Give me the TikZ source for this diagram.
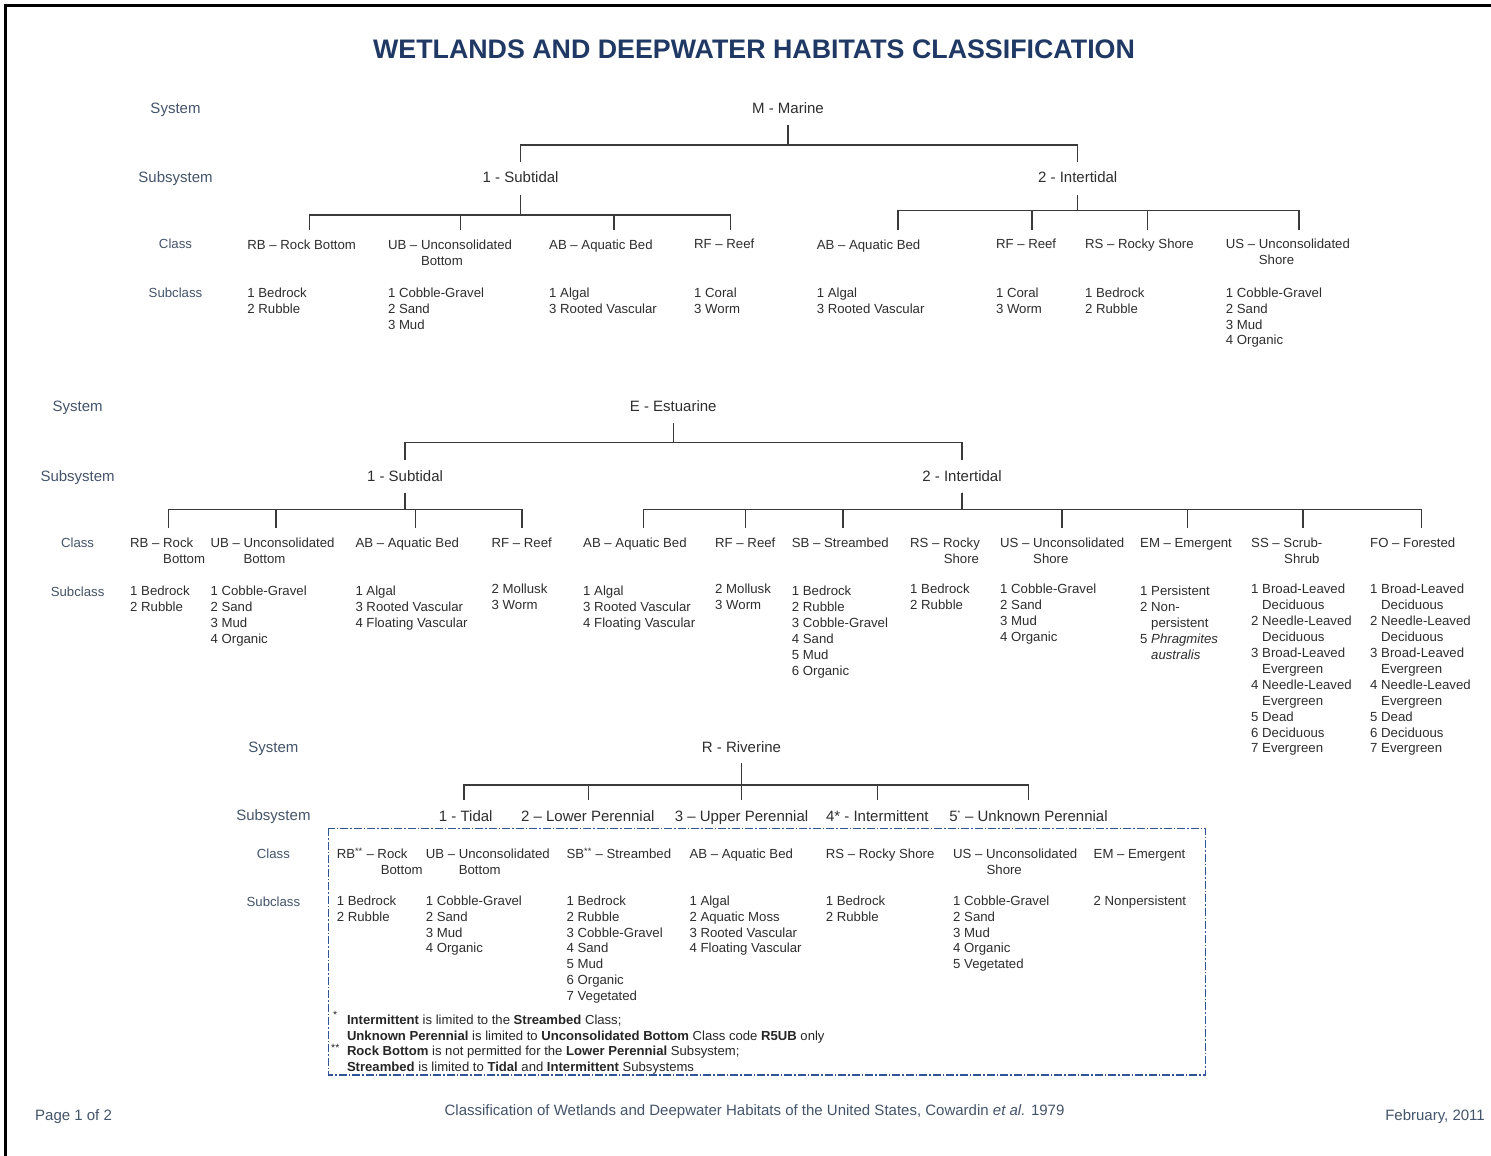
\documentclass[tikz,border=0pt]{standalone}
\usepackage{fontspec}
\setmainfont{Liberation Sans}
\definecolor{titlecol}{HTML}{1F3864}
\definecolor{labcol}{HTML}{44546A}
\definecolor{txtcol}{HTML}{2E2E2E}
\definecolor{linecol}{HTML}{3A3A3A}
\definecolor{boxcol}{HTML}{2F5597}
\newcommand{\fl}{\rule{0pt}{10pt}}
\begin{document}
\begin{tikzpicture}[x=1pt,y=-1pt,
  lab/.style={anchor=base, inner sep=0pt, text=labcol, font=\fontsize{15}{18}\selectfont},
  labs/.style={anchor=base, inner sep=0pt, text=labcol, font=\fontsize{13.2}{15.9}\selectfont},
  sysn/.style={anchor=base, inner sep=0pt, text=txtcol, font=\fontsize{15}{18}\selectfont},
  cls/.style={anchor=north west, inner sep=0pt, align=left, text=txtcol, font=\fontsize{13.2}{15.9}\selectfont},
  tree/.style={draw=linecol, line width=1.4pt},
  rbox/.style={draw=boxcol, line width=1.1pt, dash pattern=on 8pt off 2pt on 1.5pt off 2pt},
  foot/.style={inner sep=0pt, text=labcol, font=\fontsize{15}{18}\selectfont}]
\useasboundingbox (0,0) rectangle (1491,1156);
\fill[white] (0,0) rectangle (1491,1156);
\draw[black, line width=2.7pt] (5.3,1156) -- (5.3,5.3) -- (1491,5.3);

% Title
\node[anchor=base, inner sep=0pt, text=titlecol, font=\bfseries\fontsize{26.8}{30}\selectfont] (title) at (754,58.9) {WETLANDS AND DEEPWATER HABITATS CLASSIFICATION};

% ================= MARINE =================
\node[lab] (mlsys) at (175.5,113.7) {System};
\node[lab] (mlsub) at (175.5,182.7) {Subsystem};
\node[labs] (mlcls) at (175.5,248.4) {Class};
\node[labs] (mlscl) at (175.5,297) {Subclass};

\node[sysn] (mar) at (788,113.7) {M - Marine};
\node[sysn] (msub) at (520.6,182.7) {1 - Subtidal};
\node[sysn] (mint) at (1077.7,182.7) {2 - Intertidal};

\node[cls] (mRB) at (247.2,239.2) {\fl RB – Rock Bottom};
\node[cls] (mUB) at (387.8,239.2) {\fl UB – Unconsolidated\\\hspace*{33pt}Bottom};
\node[cls] (mAB) at (549,239.2) {\fl AB – Aquatic Bed};
\node[cls] (mRF) at (694,238.4) {\fl RF – Reef};
\node[cls] (mAB2) at (816.6,239.2) {\fl AB – Aquatic Bed};
\node[cls] (mRF2) at (995.8,238.4) {\fl RF – Reef};
\node[cls] (mRS) at (1084.9,238.4) {\fl RS – Rocky Shore};
\node[cls] (mUS) at (1225.7,238.4) {\fl US – Unconsolidated\\\hspace*{33pt}Shore};

\node[cls] (mRBs) at (247.2,287) {\fl 1 Bedrock\\2 Rubble};
\node[cls] (mUBs) at (387.8,287) {\fl 1 Cobble-Gravel\\2 Sand\\3 Mud};
\node[cls] (mABs) at (549,287) {\fl 1 Algal\\3 Rooted Vascular};
\node[cls] (mRFs) at (694,287) {\fl 1 Coral\\3 Worm};
\node[cls] (mAB2s) at (816.6,287) {\fl 1 Algal\\3 Rooted Vascular};
\node[cls] (mRF2s) at (995.8,287) {\fl 1 Coral\\3 Worm};
\node[cls] (mRSs) at (1084.9,287) {\fl 1 Bedrock\\2 Rubble};
\node[cls] (mUSs) at (1225.7,287) {\fl 1 Cobble-Gravel\\2 Sand\\3 Mud\\4 Organic};

\coordinate (mRBc) at (309.2,230);
\coordinate (mUBc) at (460.5,230);
\coordinate (mABc) at (614,230);
\coordinate (mRFc) at (730.4,230);
\coordinate (mAB2c) at (898,230);
\coordinate (mRF2c) at (1032,230);
\coordinate (mRSc) at (1147.6,230);
\coordinate (mUSc) at (1299,230);

\draw[tree] (mar |- 0,125) -- (mar |- 0,145) -| (msub |- 0,162.3);
\draw[tree] (mar |- 0,125) -- (mar |- 0,145) -| (mint |- 0,162.3);
\foreach \c in {mRBc,mUBc,mABc,mRFc}
  \draw[tree] (msub |- 0,195) -- (msub |- 0,215) -| (\c);
\foreach \c in {mAB2c,mRF2c,mRSc,mUSc}
  \draw[tree] (mint |- 0,195) -- (mint |- 0,210.7) -| (\c);

% ================= ESTUARINE =================
\node[lab] (elsys) at (77.6,411.4) {System};
\node[lab] (elsub) at (77.6,481.1) {Subsystem};
\node[labs] (elcls) at (77.6,547.7) {Class};
\node[labs] (elscl) at (77.6,596.4) {Subclass};

\node[sysn] (est) at (673.2,411.4) {E - Estuarine};
\node[sysn] (esub) at (405,481.1) {1 - Subtidal};
\node[sysn] (eint) at (962,481.1) {2 - Intertidal};

\node[cls] (eRB) at (130,537) {\fl RB – Rock\\\hspace*{33pt}Bottom};
\node[cls] (eUB) at (210.4,537) {\fl UB – Unconsolidated\\\hspace*{33pt}Bottom};
\node[cls] (eAB) at (355.3,537) {\fl AB – Aquatic Bed};
\node[cls] (eRF) at (491.5,537) {\fl RF – Reef};
\node[cls] (eAB2) at (583,537) {\fl AB – Aquatic Bed};
\node[cls] (eRF2) at (715,537) {\fl RF – Reef};
\node[cls] (eSB) at (791.7,537) {\fl SB – Streambed};
\node[cls] (eRS) at (910,537) {\fl RS – Rocky\\\hspace*{33.6pt}Shore};
\node[cls] (eUS) at (1000,537) {\fl US – Unconsolidated\\\hspace*{33pt}Shore};
\node[cls] (eEM) at (1140,537) {\fl EM – Emergent};
\node[cls] (eSS) at (1251,537) {\fl SS – Scrub-\\\hspace*{33pt}Shrub};
\node[cls] (eFO) at (1370,537) {\fl FO – Forested};

\node[cls] (eRBs) at (130,585.4) {\fl 1 Bedrock\\2 Rubble};
\node[cls] (eUBs) at (210.4,585.4) {\fl 1 Cobble-Gravel\\2 Sand\\3 Mud\\4 Organic};
\node[cls] (eABs) at (355.3,585.4) {\fl 1 Algal\\3 Rooted Vascular\\4 Floating Vascular};
\node[cls] (eRFs) at (491.5,583.7) {\fl 2 Mollusk\\3 Worm};
\node[cls] (eAB2s) at (583,585.4) {\fl 1 Algal\\3 Rooted Vascular\\4 Floating Vascular};
\node[cls] (eRF2s) at (715,583.7) {\fl 2 Mollusk\\3 Worm};
\node[cls] (eSBs) at (791.7,585.4) {\fl 1 Bedrock\\2 Rubble\\3 Cobble-Gravel\\4 Sand\\5 Mud\\6 Organic};
\node[cls] (eRSs) at (910,583.7) {\fl 1 Bedrock\\2 Rubble};
\node[cls] (eUSs) at (1000,583.7) {\fl 1 Cobble-Gravel\\2 Sand\\3 Mud\\4 Organic};
\node[cls] (eEMs) at (1140,585.4) {\fl 1 Persistent\\2 Non-\\\hspace*{11pt}persistent\\5 \textit{Phragmites}\\\hspace*{11pt}\textit{australis}};
\node[cls] (eSSs) at (1251,583.7) {\fl 1 Broad-Leaved\\\hspace*{11pt}Deciduous\\2 Needle-Leaved\\\hspace*{11pt}Deciduous\\3 Broad-Leaved\\\hspace*{11pt}Evergreen\\4 Needle-Leaved\\\hspace*{11pt}Evergreen\\5 Dead\\6 Deciduous\\7 Evergreen};
\node[cls] (eFOs) at (1370,583.7) {\fl 1 Broad-Leaved\\\hspace*{11pt}Deciduous\\2 Needle-Leaved\\\hspace*{11pt}Deciduous\\3 Broad-Leaved\\\hspace*{11pt}Evergreen\\4 Needle-Leaved\\\hspace*{11pt}Evergreen\\5 Dead\\6 Deciduous\\7 Evergreen};

\coordinate (eRBc) at (168.7,527.7);
\coordinate (eUBc) at (275.8,527.7);
\coordinate (eABc) at (415.4,527.7);
\coordinate (eRFc) at (522,527.7);
\coordinate (eAB2c) at (643.7,527.7);
\coordinate (eRF2c) at (745.7,527.7);
\coordinate (eSBc) at (843,527.7);
\coordinate (eUSc) at (1062,527.7);
\coordinate (eEMc) at (1187.4,527.7);
\coordinate (eSSc) at (1302.8,527.7);
\coordinate (eFOc) at (1421.6,527.7);

\draw[tree] (est |- 0,423) -- (est |- 0,442.7) -| (esub |- 0,460);
\draw[tree] (est |- 0,423) -- (est |- 0,442.7) -| (eint |- 0,460);
\foreach \c in {eRBc,eUBc,eABc,eRFc}
  \draw[tree] (esub |- 0,492.7) -- (esub |- 0,509.3) -| (\c);
\foreach \c in {eAB2c,eRF2c,eSBc,eUSc,eEMc,eSSc,eFOc}
  \draw[tree] (eint |- 0,492.7) -- (eint |- 0,509.3) -| (\c);

% ================= RIVERINE =================
\node[lab] (rlsys) at (273.4,752.1) {System};
\node[lab] (rlsub) at (273.4,820.4) {Subsystem};
\node[labs] (rlcls) at (273.4,858) {Class};
\node[labs] (rlscl) at (273.4,906.4) {Subclass};

\node[sysn] (riv) at (741.5,752.1) {R - Riverine};
\node[sysn] (r1) at (465.7,821.1) {1 - Tidal};
\node[sysn] (r2) at (587.8,821.1) {2 – Lower Perennial};
\node[sysn] (r3) at (741.5,821.1) {3 – Upper Perennial};
\node[sysn] (r4) at (877.3,821.1) {4* - Intermittent};
\node[sysn] (r5) at (1028.5,821.1) {5\textsuperscript{\scriptsize*} – Unknown Perennial};

\coordinate (r1c) at (464,800);
\coordinate (r2c) at (588.5,800);
\coordinate (r3c) at (741.5,800);
\coordinate (r4c) at (877.6,800);
\coordinate (r5c) at (1028.7,800);
\foreach \c in {r1c,r2c,r3c,r4c,r5c}
  \draw[tree] (riv |- 0,763.3) -- (riv |- 0,785) -| (\c);

\draw[rbox] (328.7,828.3) rectangle (1205.4,1075);

\node[cls] (rRB) at (336.6,848) {\fl RB\textsuperscript{**} – Rock\\\hspace*{44pt}Bottom};
\node[cls] (rUB) at (425.6,848) {\fl UB – Unconsolidated\\\hspace*{33pt}Bottom};
\node[cls] (rSB) at (566.4,848) {\fl SB\textsuperscript{**} – Streambed};
\node[cls] (rAB) at (689.3,848) {\fl AB – Aquatic Bed};
\node[cls] (rRS) at (825.6,848) {\fl RS – Rocky Shore};
\node[cls] (rUS) at (953,848) {\fl US – Unconsolidated\\\hspace*{33.4pt}Shore};
\node[cls] (rEM) at (1093.5,848) {\fl EM – Emergent};

\node[cls] (rRBs) at (336.6,895) {\fl 1 Bedrock\\2 Rubble};
\node[cls] (rUBs) at (425.6,895) {\fl 1 Cobble-Gravel\\2 Sand\\3 Mud\\4 Organic};
\node[cls] (rSBs) at (566.4,895) {\fl 1 Bedrock\\2 Rubble\\3 Cobble-Gravel\\4 Sand\\5 Mud\\6 Organic\\7 Vegetated};
\node[cls] (rABs) at (689.3,895) {\fl 1 Algal\\2 Aquatic Moss\\3 Rooted Vascular\\4 Floating Vascular};
\node[cls] (rRSs) at (825.6,895) {\fl 1 Bedrock\\2 Rubble};
\node[cls] (rUSs) at (953,895) {\fl 1 Cobble-Gravel\\2 Sand\\3 Mud\\4 Organic\\5 Vegetated};
\node[cls] (rEMs) at (1093.5,895) {\fl 2 Nonpersistent};

% footnotes
\node[cls, text=black!85, font=\fontsize{13.1}{15.8}\selectfont] (fn) at (346.8,1014) {\fl\textbf{Intermittent} is limited to the \textbf{Streambed} Class;\\\textbf{Unknown Perennial} is limited to \textbf{Unconsolidated Bottom} Class code \textbf{R5UB} only\\\textbf{Rock Bottom} is not permitted for the \textbf{Lower Perennial} Subsystem;\\\textbf{Streambed} is limited to \textbf{Tidal} and \textbf{Intermittent} Subsystems};
\node[anchor=base west, inner sep=0pt, text=black!85, font=\fontsize{15}{18}\selectfont] (fm1) at (333,1024) {\textsuperscript{*}};
\node[anchor=base west, inner sep=0pt, text=black!85, font=\fontsize{15}{18}\selectfont] (fm2) at (331,1056.4) {\textsuperscript{**}};

% footer
\node[foot, anchor=base west] (pg) at (35,1120.4) {Page 1 of 2};
\node[foot, anchor=base] (cite) at (754.5,1115.2) {Classification of Wetlands and Deepwater Habitats of the United States, Cowardin \textit{et al.} 1979};
\node[foot, anchor=base east] (date) at (1485,1120.4) {February, 2011};
\end{tikzpicture}
\end{document}
